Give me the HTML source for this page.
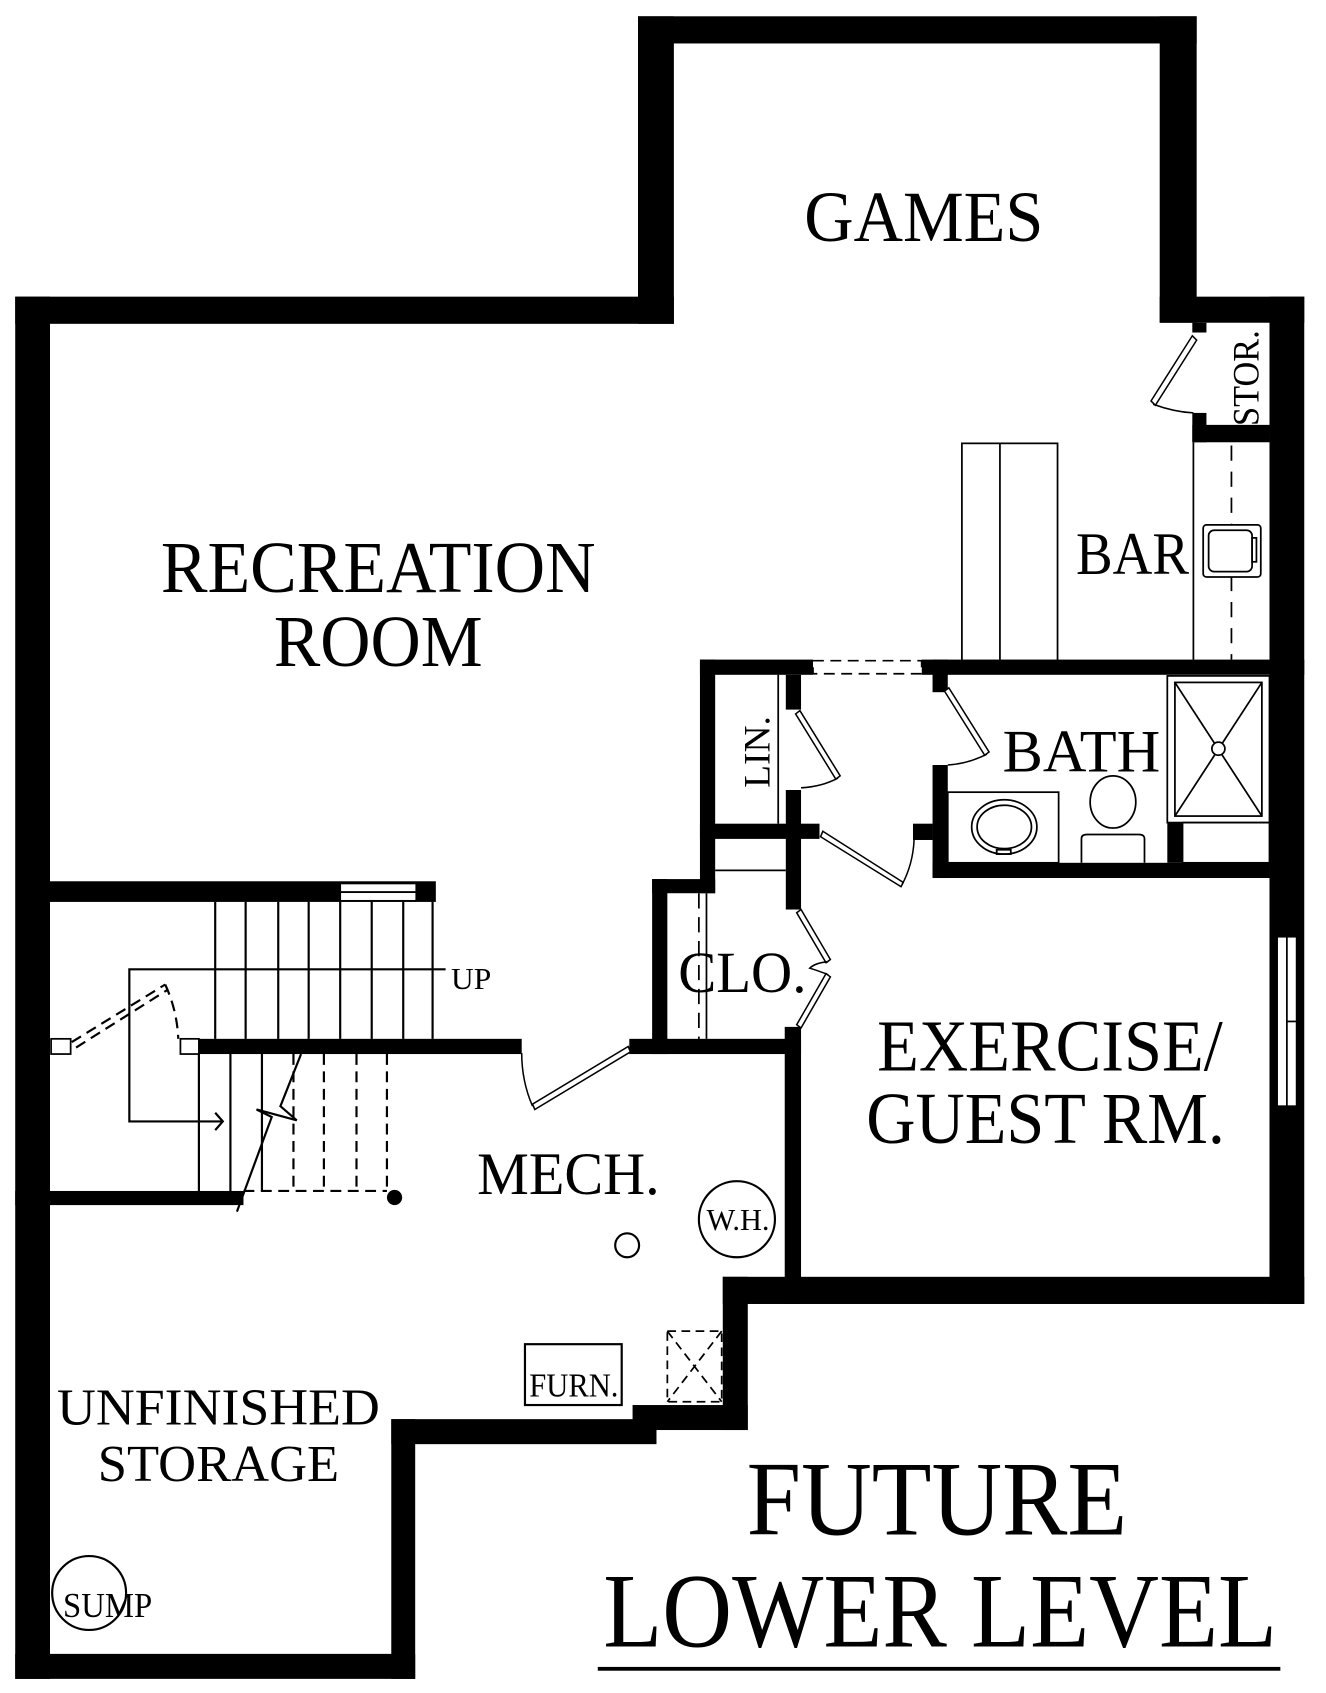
<!DOCTYPE html>
<html><head><meta charset="utf-8"><style>
html,body{margin:0;padding:0;background:#fff;}
svg{display:block;}
text{font-family:"Liberation Serif",serif;fill:#000;}
</style></head><body>
<svg width="1326" height="1693" viewBox="0 0 1220 1558" preserveAspectRatio="none" xmlns="http://www.w3.org/2000/svg">
<rect width="1220" height="1558" fill="#fff"/>
<g fill="#000">
<rect x="14" y="273" width="32" height="1272"/>
<rect x="14" y="273" width="606" height="25"/>
<rect x="587" y="15" width="33" height="283"/>
<rect x="587" y="15" width="514" height="25"/>
<rect x="1067" y="15" width="34" height="282"/>
<rect x="1067" y="273" width="133" height="24"/>
<rect x="1168" y="273" width="32" height="927"/>
<rect x="1097" y="391" width="71" height="16"/>
<rect x="1097" y="297" width="13" height="9"/>
<rect x="1097" y="380" width="13" height="27"/>
<rect x="665" y="1175" width="535" height="25"/>
<rect x="722" y="945" width="15" height="255"/>
<rect x="723" y="727" width="14" height="110"/>
<rect x="723" y="621" width="14" height="32"/>
<rect x="644" y="607" width="14" height="215"/>
<rect x="644" y="607" width="104" height="14"/>
<rect x="848" y="607" width="352" height="14"/>
<rect x="644" y="758" width="110" height="14"/>
<rect x="600" y="809" width="14" height="161"/>
<rect x="600" y="809" width="58" height="13"/>
<rect x="579" y="956" width="158" height="14"/>
<rect x="183" y="956" width="297" height="14"/>
<rect x="858" y="607" width="14" height="30"/>
<rect x="858" y="704" width="14" height="104"/>
<rect x="840" y="758" width="18" height="15"/>
<rect x="858" y="794" width="310" height="14"/>
<rect x="1074" y="757" width="14" height="37"/>
<rect x="46" y="811" width="355" height="19"/>
<rect x="14" y="1096" width="210" height="13"/>
<rect x="665" y="1175" width="23" height="141"/>
<rect x="582" y="1293" width="106" height="23"/>
<rect x="360" y="1306" width="244" height="23"/>
<rect x="360" y="1306" width="22" height="239"/>
<rect x="14" y="1522" width="368" height="23"/>
</g>
<g fill="none" stroke="#000" stroke-width="1.6">
<rect x="748" y="608" width="100" height="12" fill="#fff" stroke-dasharray="10,6"/>
<rect x="313" y="813" width="70" height="8" fill="#fff"/>
<rect x="313" y="821" width="70" height="8" fill="#fff"/>
<rect x="1175" y="862" width="18" height="156" fill="#fff"/>
<line x1="1184" y1="862" x2="1184" y2="1018"/>
<line x1="1184" y1="940" x2="1193" y2="940"/>
<rect x="885" y="408" width="88" height="200"/>
<line x1="920" y1="408" x2="920" y2="607"/>
<line x1="1098" y1="407" x2="1098" y2="607"/>
<line x1="1133" y1="410" x2="1133" y2="607" stroke-dasharray="14,10"/>
<rect x="1107" y="483" width="53" height="48" rx="3" fill="#fff"/>
<rect x="1112" y="488" width="40" height="38" rx="5"/>
<rect x="1152" y="495" width="4" height="22"/>
<rect x="1074" y="622" width="94" height="135"/>
<rect x="1081" y="628" width="80" height="123"/>
<line x1="1081" y1="628" x2="1161" y2="751"/>
<line x1="1161" y1="628" x2="1081" y2="751"/>
<circle cx="1121" cy="689" r="6" fill="#fff"/>
<rect x="872" y="729" width="102" height="65"/>
<ellipse cx="924" cy="761" rx="30" ry="25"/>
<ellipse cx="924" cy="761" rx="25" ry="20"/>
<rect x="917" y="782" width="13" height="4"/>
<ellipse cx="1024" cy="738" rx="21" ry="24"/>
<path d="M995 794 V772 Q995 768 1000 768 H1048 Q1053 768 1053 772 V794"/>
<rect x="1088" y="757" width="80" height="37"/>
<line x1="716" y1="621" x2="716" y2="758"/>
<line x1="658" y1="801" x2="723" y2="801"/>
<line x1="643" y1="822" x2="643" y2="956" stroke-dasharray="14,8"/>
<line x1="650" y1="822" x2="650" y2="956"/>
<g stroke-width="1.4">
<polygon points="1097,309 1101,313 1063,373 1059,369" fill="#fff"/>
<path d="M1061,372 Q1080,379 1098,380"/>
<polygon points="732,657 736,654 773,714 769,717" fill="#fff"/>
<path d="M771,716 Q756,724 737,725"/>
<polygon points="869,636 873,633 910,692 906,695" fill="#fff"/>
<path d="M908,694 Q890,703 872,704"/>
<polygon points="757,765 755,770 829,816 831,812" fill="#fff"/>
<path d="M830,814 Q840,795 841,773"/>
<polygon points="733,840 737,837 764,883 760,886" fill="#fff"/>
<polygon points="760,896 764,899 737,946 733,943" fill="#fff"/>
<path d="M762,885 Q750,886 745,891 Q752,893 762,897"/>
<polygon points="578,963 580,968 492,1021 490,1016" fill="#fff"/>
<path d="M490,1018 Q480,995 480,969"/>
</g>
<g stroke-width="2">
<line x1="198" y1="830" x2="198" y2="956"/>
<line x1="226" y1="830" x2="226" y2="956"/>
<line x1="256" y1="830" x2="256" y2="956"/>
<line x1="284" y1="830" x2="284" y2="956"/>
<line x1="313" y1="830" x2="313" y2="956"/>
<line x1="342" y1="830" x2="342" y2="956"/>
<line x1="371" y1="830" x2="371" y2="956"/>
<line x1="398" y1="830" x2="398" y2="956"/>
<polyline points="410,892 119,892 119,1032 205,1032"/>
<polyline points="198,1024 205,1032 198,1040"/>
<line x1="183" y1="970" x2="183" y2="1096"/>
<line x1="212" y1="970" x2="212" y2="1096"/>
<line x1="241" y1="970" x2="241" y2="1096"/>
<g stroke-dasharray="10,6">
<line x1="270" y1="970" x2="270" y2="1096"/>
<line x1="298" y1="970" x2="298" y2="1096"/>
<line x1="328" y1="970" x2="328" y2="1096"/>
<line x1="356" y1="970" x2="356" y2="1096"/>
<line x1="224" y1="1096" x2="356" y2="1096"/>
<line x1="66" y1="959" x2="152" y2="906"/>
<line x1="70" y1="964" x2="154" y2="911"/>
<path d="M152,906 Q163,930 164,956"/>
</g>
<polyline points="218,1115 250,1028 236,1021 273,1031 258,1018 277,970" fill="none"/>
</g>
<rect x="47" y="956" width="18" height="14" fill="#fff"/>
<rect x="166" y="956" width="17" height="14" fill="#fff"/>
<circle cx="678" cy="1122" r="35" stroke-width="2"/>
<circle cx="577" cy="1146" r="11" stroke-width="2"/>
<rect x="483" y="1237" width="89" height="56" stroke-width="2"/>
<rect x="614" y="1225" width="50" height="65" stroke-dasharray="8,5"/>
<line x1="614" y1="1225" x2="664" y2="1290" stroke-dasharray="8,5"/>
<line x1="664" y1="1225" x2="614" y2="1290" stroke-dasharray="8,5"/>
<circle cx="82" cy="1466" r="34" stroke-width="2"/>
</g>
<circle cx="363" cy="1102" r="7" fill="#000"/>
<rect x="550" y="1534" width="628" height="3.5" fill="#000"/>
<text x="850" y="222" font-size="66" text-anchor="middle" textLength="220" lengthAdjust="spacingAndGlyphs">GAMES</text>
<text x="348" y="545" font-size="67" text-anchor="middle" textLength="400" lengthAdjust="spacingAndGlyphs">RECREATION</text>
<text x="348" y="613" font-size="67" text-anchor="middle" textLength="192" lengthAdjust="spacingAndGlyphs">ROOM</text>
<text x="1042" y="528" font-size="56" text-anchor="middle" textLength="104" lengthAdjust="spacingAndGlyphs">BAR</text>
<text x="995" y="710" font-size="56" text-anchor="middle" textLength="145" lengthAdjust="spacingAndGlyphs">BATH</text>
<text transform="translate(708,692) rotate(-90)" font-size="34" text-anchor="middle" textLength="66" lengthAdjust="spacingAndGlyphs">LIN.</text>
<text transform="translate(1158,348) rotate(-90)" font-size="34" text-anchor="middle" textLength="88" lengthAdjust="spacingAndGlyphs">STOR.</text>
<text x="683" y="913" font-size="54" text-anchor="middle" textLength="118" lengthAdjust="spacingAndGlyphs">CLO.</text>
<text x="966" y="985" font-size="67" text-anchor="middle" textLength="318" lengthAdjust="spacingAndGlyphs">EXERCISE/</text>
<text x="962" y="1052" font-size="67" text-anchor="middle" textLength="330" lengthAdjust="spacingAndGlyphs">GUEST RM.</text>
<text x="523" y="1099" font-size="56" text-anchor="middle" textLength="168" lengthAdjust="spacingAndGlyphs">MECH.</text>
<text x="415" y="910" font-size="28" textLength="37" lengthAdjust="spacingAndGlyphs">UP</text>
<text x="679" y="1132" font-size="28" text-anchor="middle" textLength="58" lengthAdjust="spacingAndGlyphs">W.H.</text>
<text x="528" y="1285" font-size="31" text-anchor="middle" textLength="82" lengthAdjust="spacingAndGlyphs">FURN.</text>
<text x="201" y="1311" font-size="48" text-anchor="middle" textLength="297" lengthAdjust="spacingAndGlyphs">UNFINISHED</text>
<text x="201" y="1363" font-size="48" text-anchor="middle" textLength="222" lengthAdjust="spacingAndGlyphs">STORAGE</text>
<text x="58" y="1488" font-size="32" textLength="82" lengthAdjust="spacingAndGlyphs">SUMP</text>
<text x="862" y="1412" font-size="98" text-anchor="middle" textLength="350" lengthAdjust="spacingAndGlyphs">FUTURE</text>
<text x="865" y="1515" font-size="98" text-anchor="middle" textLength="620" lengthAdjust="spacingAndGlyphs">LOWER LEVEL</text>
</svg>
</body></html>
